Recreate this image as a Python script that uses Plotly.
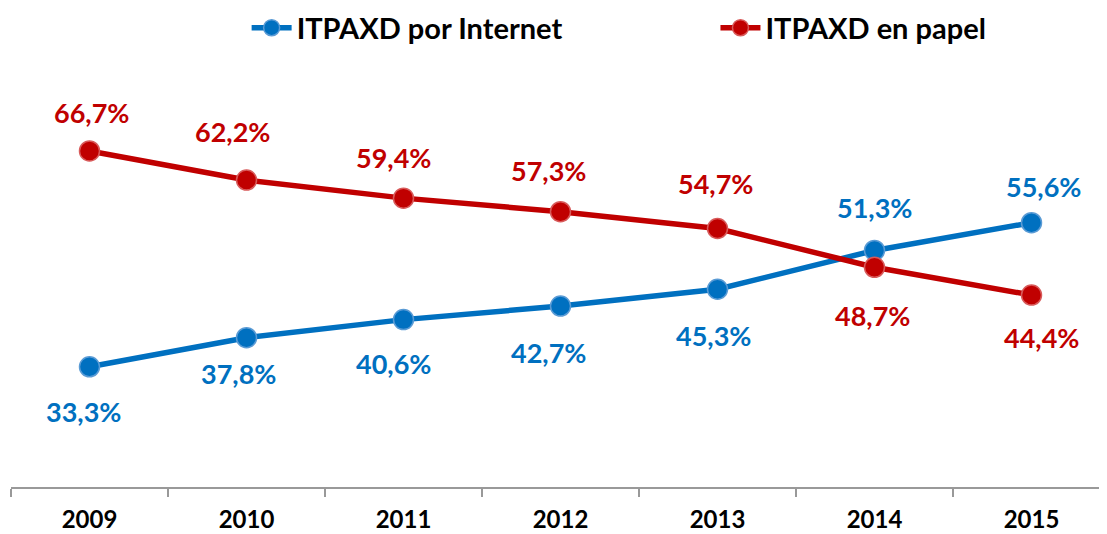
import plotly.graph_objects as go

years = ["2009", "2010", "2011", "2012", "2013", "2014", "2015"]
internet = [33.3, 37.8, 40.6, 42.7, 45.3, 51.3, 55.6]
papel = [66.7, 62.2, 59.4, 57.3, 54.7, 48.7, 44.4]

# label offsets in pixels (style, not data)
internet_label_shift = [-45, -36, -44, -46, -46, 43, 36]
papel_label_shift = [38, 49, 41, 41, 45, -48, -42]
internet_label_xshift = [-6, -8, -10, -12, -4, 0, 12]
papel_label_xshift = [2, -14, -10, -12, -2, -2, 10]

BLUE = "#0070C0"
RED = "#C00000"
FONT = "Lato"

fig = go.Figure()
fig.add_trace(go.Scatter(
    x=years, y=internet, name="ITPAXD por Internet", mode="lines+markers",
    line=dict(color=BLUE, width=5.5),
    marker=dict(size=20, color=BLUE, line=dict(color="#5A9BD5", width=1.5)),
    legend="legend",
))
fig.add_trace(go.Scatter(
    x=years, y=papel, name="ITPAXD en papel", mode="lines+markers",
    line=dict(color=RED, width=5.5),
    marker=dict(size=20, color=RED, line=dict(color="#D85A5A", width=1.5)),
    legend="legend2",
))

def fmt(v):
    return f"{v:.1f}".replace(".", ",") + "%"

for vals, ys, xs, col in [(internet, internet_label_shift, internet_label_xshift, BLUE),
                          (papel, papel_label_shift, papel_label_xshift, RED)]:
    for i, v in enumerate(vals):
        fig.add_annotation(
            x=i, y=v, xref="x", yref="y", text=fmt(v), showarrow=False,
            yshift=ys[i], xshift=xs[i],
            font=dict(family=FONT, size=27, color=col, weight="bold"),
        )

legend_style = dict(
    orientation="h", xanchor="left", y=1.088, yanchor="middle",
    font=dict(family=FONT, size=29, color="black", weight="bold"),
    itemwidth=40, bgcolor="rgba(0,0,0,0)",
)

fig.update_layout(
    width=1107, height=534,
    margin=dict(l=3, r=5, t=57, b=55, autoexpand=False),
    plot_bgcolor="white", paper_bgcolor="white",
    showlegend=True,
    legend=dict(x=0.2144, **legend_style),
    legend2=dict(x=0.641, **legend_style),
    xaxis=dict(
        type="category", range=[-0.5, 6.5], automargin=False,
        showline=True, linecolor="#999999", linewidth=2,
        ticks="outside", tickson="boundaries", ticklen=8, tickwidth=2, tickcolor="#999999",
        showgrid=False, zeroline=False,
        tickfont=dict(family=FONT, size=24, color="black", weight="bold"),
        ticklabelstandoff=10,
    ),
    yaxis=dict(
        range=[14.7, 80], visible=False, showgrid=False, zeroline=False, automargin=False,
    ),
)

fig.write_html("out.html")
